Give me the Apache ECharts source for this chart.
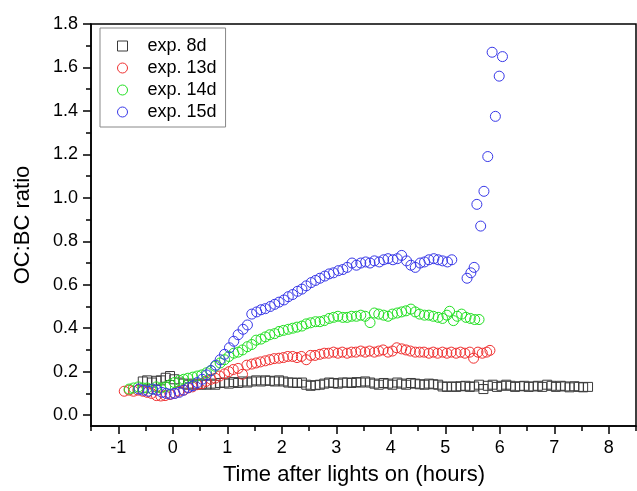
<!DOCTYPE html>
<html><head><meta charset="utf-8">
<script src="https://cdn.jsdelivr.net/npm/echarts@6/dist/echarts.min.js"></script>
<style>html,body{margin:0;padding:0;background:#fff}#c{width:637px;height:491px}</style>
</head><body><div id="c"></div><script>
// ---------- data (time after lights on, hours ; OC:BC ratio) ----------
const seriesNames = ['exp. 8d', 'exp. 13d', 'exp. 14d', 'exp. 15d'];

const t8 = [-0.55,-0.47,-0.38,-0.30,-0.22,-0.13,-0.05,0.03,0.12,0.20,0.28,0.37,0.45,0.53,0.62,0.70,0.78,0.87,0.95,1.03,1.12,1.20,1.28,1.37,1.45,1.53,1.62,1.70,1.78,1.87,1.95,2.03,2.12,2.20,2.28,2.37,2.45,2.53,2.62,2.70,2.78,2.87,2.95,3.03,3.12,3.20,3.28,3.37,3.45,3.53,3.62,3.70,3.78,3.87,3.95,4.03,4.12,4.20,4.28,4.37,4.45,4.53,4.62,4.70,4.78,4.87,4.95,5.03,5.12,5.20,5.28,5.37,5.45,5.53,5.62,5.70,5.78,5.87,5.95,6.03,6.12,6.20,6.28,6.37,6.45,6.53,6.62,6.70,6.78,6.87,6.95,7.03,7.12,7.20,7.28,7.37,7.45,7.53,7.62];
const v8 = [0.155,0.16,0.15,0.158,0.16,0.172,0.18,0.165,0.15,0.145,0.14,0.145,0.14,0.142,0.14,0.145,0.14,0.148,0.15,0.145,0.152,0.148,0.155,0.15,0.155,0.16,0.155,0.16,0.158,0.155,0.16,0.155,0.15,0.15,0.148,0.15,0.14,0.135,0.138,0.14,0.145,0.15,0.148,0.145,0.15,0.15,0.148,0.152,0.15,0.155,0.15,0.145,0.14,0.148,0.145,0.14,0.15,0.145,0.14,0.148,0.145,0.142,0.14,0.145,0.142,0.14,0.132,0.13,0.132,0.13,0.133,0.135,0.13,0.132,0.14,0.12,0.135,0.14,0.13,0.135,0.14,0.135,0.13,0.133,0.135,0.13,0.132,0.135,0.13,0.14,0.135,0.13,0.135,0.132,0.128,0.133,0.13,0.128,0.13];

const t13 = [-0.89,-0.80,-0.72,-0.64,-0.55,-0.47,-0.39,-0.30,-0.22,-0.14,-0.05,0.03,0.11,0.20,0.28,0.36,0.45,0.53,0.61,0.70,0.78,0.86,0.95,1.03,1.11,1.20,1.28,1.36,1.45,1.53,1.61,1.70,1.78,1.86,1.95,2.03,2.11,2.20,2.28,2.36,2.45,2.53,2.61,2.70,2.78,2.86,2.95,3.03,3.11,3.20,3.28,3.36,3.45,3.53,3.61,3.70,3.78,3.86,3.95,4.03,4.11,4.20,4.28,4.36,4.45,4.53,4.61,4.70,4.78,4.86,4.95,5.03,5.11,5.20,5.28,5.36,5.45,5.52,5.60,5.68,5.76,5.82];
const v13 = [0.11,0.115,0.11,0.115,0.11,0.105,0.1,0.09,0.088,0.09,0.095,0.1,0.11,0.115,0.125,0.13,0.14,0.145,0.155,0.165,0.17,0.18,0.19,0.2,0.21,0.215,0.188,0.23,0.235,0.24,0.245,0.25,0.255,0.26,0.262,0.265,0.27,0.27,0.265,0.27,0.255,0.275,0.275,0.28,0.285,0.285,0.29,0.285,0.29,0.285,0.29,0.29,0.295,0.29,0.295,0.29,0.295,0.3,0.29,0.295,0.31,0.305,0.3,0.295,0.29,0.29,0.29,0.285,0.29,0.285,0.29,0.285,0.29,0.285,0.29,0.285,0.29,0.262,0.29,0.285,0.29,0.298];

const t14 = [-0.80,-0.72,-0.63,-0.55,-0.47,-0.38,-0.30,-0.22,-0.13,-0.05,0.03,0.12,0.20,0.28,0.37,0.45,0.53,0.62,0.70,0.78,0.87,0.95,1.03,1.12,1.20,1.28,1.37,1.45,1.53,1.62,1.70,1.78,1.87,1.95,2.03,2.12,2.20,2.28,2.37,2.45,2.53,2.62,2.70,2.78,2.87,2.95,3.03,3.12,3.20,3.28,3.37,3.45,3.53,3.62,3.70,3.78,3.87,3.95,4.03,4.12,4.20,4.28,4.37,4.45,4.53,4.62,4.70,4.78,4.87,4.95,5.03,5.08,5.15,5.22,5.30,5.38,5.46,5.54,5.62];
const v14 = [0.12,0.125,0.13,0.125,0.125,0.12,0.13,0.125,0.13,0.14,0.15,0.16,0.165,0.17,0.175,0.18,0.185,0.195,0.205,0.225,0.24,0.255,0.27,0.285,0.29,0.3,0.315,0.325,0.345,0.35,0.36,0.37,0.375,0.385,0.39,0.395,0.4,0.405,0.41,0.42,0.425,0.43,0.43,0.435,0.445,0.45,0.455,0.45,0.45,0.455,0.455,0.46,0.455,0.426,0.47,0.465,0.46,0.455,0.465,0.47,0.475,0.48,0.488,0.475,0.465,0.46,0.46,0.455,0.45,0.445,0.46,0.478,0.435,0.455,0.465,0.45,0.445,0.44,0.44];

const t15 = [-0.62,-0.54,-0.45,-0.37,-0.29,-0.20,-0.12,-0.04,0.04,0.12,0.20,0.29,0.37,0.45,0.54,0.62,0.70,0.79,0.87,0.95,1.04,1.12,1.20,1.29,1.37,1.45,1.54,1.62,1.70,1.79,1.87,1.95,2.04,2.12,2.20,2.29,2.37,2.45,2.54,2.62,2.70,2.79,2.87,2.95,3.04,3.12,3.20,3.29,3.37,3.45,3.54,3.62,3.70,3.79,3.87,3.95,4.04,4.12,4.20,4.29,4.37,4.45,4.54,4.62,4.70,4.79,4.87,4.95,5.04,5.12,5.40,5.47,5.53,5.58,5.65,5.71,5.78,5.86,5.92,5.99,6.05];
const v15 = [0.12,0.115,0.11,0.12,0.115,0.105,0.1,0.097,0.1,0.105,0.115,0.127,0.135,0.15,0.165,0.185,0.205,0.23,0.255,0.28,0.31,0.34,0.37,0.395,0.415,0.465,0.475,0.485,0.49,0.5,0.51,0.52,0.53,0.545,0.555,0.57,0.58,0.595,0.61,0.62,0.63,0.64,0.65,0.655,0.665,0.67,0.68,0.7,0.69,0.7,0.705,0.7,0.71,0.705,0.715,0.72,0.715,0.72,0.735,0.71,0.69,0.68,0.7,0.705,0.715,0.72,0.715,0.71,0.705,0.715,0.63,0.655,0.68,0.97,0.87,1.03,1.19,1.67,1.375,1.56,1.65];

const xMajorTicks = [-1, 8];   // first / last labelled hour
const yMajorTicks = [0, 1.8];  // first / last labelled ratio

// ---------- layout ----------
const FONT = '"Liberation Sans", Arial, Helvetica, sans-serif';
const X0 = -1.5, X1 = 8.5, Y0 = -0.05, Y1 = 1.8;
const L = 91, T = 24, W = 545, H = 402;
const ux = W / (X1 - X0), uy = H / (Y1 - Y0);
const blk = {color: '#000', width: 1.5};

function zip(t, v) { return t.map((x, i) => [x, v[i]]); }

const colors = ['#3a3a3a', '#f03030', '#22e022', '#3838e8'];
const symbols = ['rect', 'circle', 'circle', 'circle'];
const sizes = [9, 10, 10, 10];
const dataSets = [zip(t8, v8), zip(t13, v13), zip(t14, v14), zip(t15, v15)];

const chart = echarts.init(document.getElementById('c'), null, {renderer: 'canvas'});
chart.setOption({
  animation: false,
  backgroundColor: '#fff',
  textStyle: {fontFamily: FONT},
  grid: [
    {left: L, top: T, width: W, height: H, show: true, borderColor: '#000', borderWidth: 1.5, backgroundColor: 'transparent', outerBoundsMode: 'none', containLabel: false},
    {left: L, top: T, width: W, height: (Y1 - yMajorTicks[0]) * uy, outerBoundsMode: 'none', containLabel: false},
    {left: L + (xMajorTicks[0] - X0) * ux, top: T, width: (xMajorTicks[1] - xMajorTicks[0]) * ux, height: H, outerBoundsMode: 'none', containLabel: false}
  ],
  xAxis: [
    {gridIndex: 0, type: 'value', min: X0, max: X1, interval: 0.5,
     axisLine: {show: true, onZero: false, lineStyle: blk},
     axisTick: {show: true, length: 5, lineStyle: blk},
     axisLabel: {show: false}, splitLine: {show: false},
     name: 'Time after lights on (hours)', nameLocation: 'middle', nameGap: 38,
     nameTextStyle: {fontSize: 22, color: '#000', fontFamily: FONT, padding: [0, 19, 0, 0]}},
    {gridIndex: 1, type: 'value', show: false, min: 0, max: 1},
    {gridIndex: 2, type: 'value', min: xMajorTicks[0], max: xMajorTicks[1], interval: 1,
     axisLine: {show: false, onZero: false},
     axisTick: {show: true, length: 8, lineStyle: blk},
     axisLabel: {show: true, fontSize: 18, margin: 13, color: '#000', fontFamily: FONT},
     splitLine: {show: false}}
  ],
  yAxis: [
    {gridIndex: 0, type: 'value', min: Y0, max: Y1,
     axisLine: {show: true, onZero: false, lineStyle: blk},
     axisTick: {show: false}, axisLabel: {show: false}, splitLine: {show: false},
     name: 'OC:BC ratio', nameLocation: 'middle', nameGap: 57,
     nameTextStyle: {fontSize: 22, color: '#000', fontFamily: FONT}},
    {gridIndex: 1, type: 'value', min: yMajorTicks[0], max: yMajorTicks[1], interval: 0.2,
     axisLine: {show: false, onZero: false},
     axisTick: {show: true, length: 8, lineStyle: blk},
     minorTick: {show: true, splitNumber: 2, length: 5, lineStyle: blk},
     axisLabel: {show: true, fontSize: 18, margin: 13, color: '#000', fontFamily: FONT, formatter: v => v.toFixed(1)},
     splitLine: {show: false}, minorSplitLine: {show: false}},
    {gridIndex: 2, type: 'value', show: false, min: 0, max: 1}
  ],
  legend: {
    orient: 'vertical', left: 100, top: 28, padding: [7, 9, 4, 17], itemGap: 0,
    itemWidth: 10, itemHeight: 10,
    borderColor: '#888', borderWidth: 1, backgroundColor: '#fff',
    itemStyle: {borderWidth: 1},
    textStyle: {fontSize: 18, color: '#000', fontFamily: FONT, lineHeight: 22, padding: [0, 0, 0, 15]},
    data: seriesNames
  },
  series: seriesNames.map((n, i) => ({
    name: n, type: 'scatter', xAxisIndex: 0, yAxisIndex: 0,
    symbol: symbols[i], symbolSize: sizes[i],
    itemStyle: {color: 'rgba(0,0,0,0)', borderColor: colors[i], borderWidth: 1, opacity: 1},
    emphasis: {disabled: true},
    data: dataSets[i]
  }))
});
</script></body></html>
